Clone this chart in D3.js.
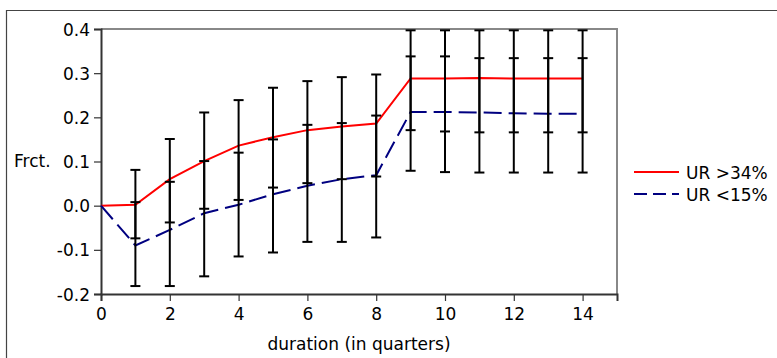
<!DOCTYPE html>
<html>
<head>
<meta charset="utf-8">
<script src="https://cdn.jsdelivr.net/npm/d3@7"></script>
<style>
  html, body { margin: 0; padding: 0; background: #fff; }
  svg { display: block; }
  svg text { font-family: "DejaVu Sans", sans-serif; font-size: 17px; fill: #000; }
</style>
</head>
<body>
<div id="chart"></div>
<script>
const quarters = [0, 1, 2, 3, 4, 5, 6, 7, 8, 9, 10, 11, 12, 13, 14];
const urHigh = [0, 0.002, 0.060, 0.101, 0.136, 0.155, 0.171, 0.179, 0.186, 0.288, 0.288, 0.289, 0.288, 0.288, 0.288];
const urLow = [0, -0.090, -0.055, -0.017, 0.002, 0.026, 0.045, 0.060, 0.069, 0.212, 0.212, 0.211, 0.209, 0.208, 0.208];

// error bars, quarters 1..14
const barQuarters = [1, 2, 3, 4, 5, 6, 7, 8, 9, 10, 11, 12, 13, 14];
const highLo = [-0.074, -0.038, -0.007, 0.013, 0.041, 0.051, 0.060, 0.066, 0.171, 0.168, 0.166, 0.166, 0.166, 0.166];
const highHi = [0.081, 0.151, 0.211, 0.239, 0.267, 0.282, 0.291, 0.297, 0.397, 0.397, 0.397, 0.397, 0.397, 0.397];
const lowLo = [-0.182, -0.182, -0.160, -0.115, -0.106, -0.082, -0.082, -0.072, 0.079, 0.076, 0.075, 0.075, 0.075, 0.075];
const lowHi = [0.008, 0.054, 0.101, 0.120, 0.150, 0.183, 0.187, 0.204, 0.338, 0.338, 0.334, 0.334, 0.334, 0.334];

const xTicks = [0, 2, 4, 6, 8, 10, 12, 14];
const yTicks = [-0.2, -0.1, 0.0, 0.1, 0.2, 0.3, 0.4];

const width = 777, height = 358;
const margin = { top: 29, right: 160, bottom: 64, left: 101 };
const innerWidth = width - margin.left - margin.right;
const innerHeight = height - margin.top - margin.bottom;

const svg = d3.select('#chart')
  .append('svg')
  .attr('width', width)
  .attr('height', height);

// outer frame
svg.append('path')
  .attr('d', `M6.5,${height} V10.5 H${width}`)
  .attr('fill', 'none')
  .attr('stroke', '#444')
  .attr('stroke-width', 1.2);

const g = svg.append('g')
  .attr('transform', `translate(${margin.left},${margin.top})`);

const x = d3.scaleLinear().domain([0, 15]).range([0, innerWidth]);
const y = d3.scaleLinear().domain([-0.2, 0.4]).range([innerHeight, 0]);

// top / right border
g.append('path')
  .attr('d', `M0,0 H${innerWidth} V${innerHeight}`)
  .attr('fill', 'none')
  .attr('stroke', '#888')
  .attr('stroke-width', 2);

const fmtY = d => d3.format('.1f')(d).replace('\u2212', '-');

// Y Axis
const yAxis = g.append('g')
  .call(d3.axisLeft(y).tickValues(yTicks).tickSize(7).tickPadding(4).tickFormat(fmtY));
yAxis.attr('font-size', null).attr('font-family', null);
yAxis.select('.domain').attr('stroke', '#333').attr('stroke-width', 2);
yAxis.selectAll('line').attr('stroke', '#333').attr('stroke-width', 1.2);
yAxis.selectAll('text').attr('fill', '#000').attr('dy', '0.36em');

// X Axis
const xAxis = g.append('g')
  .attr('transform', `translate(0,${innerHeight})`)
  .call(d3.axisBottom(x).tickValues(xTicks).tickSize(7).tickPadding(7).tickFormat(d3.format('d')));
xAxis.attr('font-size', null).attr('font-family', null);
xAxis.select('.domain').attr('stroke', '#333').attr('stroke-width', 2);
xAxis.selectAll('line').attr('stroke', '#333').attr('stroke-width', 1.2);
xAxis.selectAll('text').attr('fill', '#000');

// Axis labels
svg.append('text')
  .attr('x', 14)
  .attr('y', 167)
  .text('Frct.');

svg.append('text')
  .attr('x', margin.left + innerWidth / 2)
  .attr('y', 350)
  .attr('text-anchor', 'middle')
  .text('duration (in quarters)');

// Lines
const line = d3.line()
  .x((d, i) => x(quarters[i]))
  .y(d => y(d));

g.append('path')
  .datum(urHigh)
  .attr('fill', 'none')
  .attr('stroke', '#ff0000')
  .attr('stroke-width', 2)
  .attr('d', line);

g.append('path')
  .datum(urLow)
  .attr('fill', 'none')
  .attr('stroke', '#000080')
  .attr('stroke-width', 2)
  .attr('stroke-dasharray', '18,7')
  .attr('d', line);

// Error bars
const bars = [];
barQuarters.forEach((q, i) => {
  bars.push({ q, lo: highLo[i], hi: highHi[i] });
  bars.push({ q, lo: lowLo[i], hi: lowHi[i] });
});

const eb = g.append('g')
  .attr('stroke', '#000')
  .attr('stroke-width', 2);

eb.selectAll('.stem')
  .data(bars)
  .enter()
  .append('line')
  .attr('x1', d => x(d.q))
  .attr('x2', d => x(d.q))
  .attr('y1', d => y(d.lo))
  .attr('y2', d => y(d.hi));

const caps = bars.flatMap(d => [{ q: d.q, v: d.lo }, { q: d.q, v: d.hi }]);
eb.selectAll('.cap')
  .data(caps)
  .enter()
  .append('line')
  .attr('x1', d => x(d.q) - 5)
  .attr('x2', d => x(d.q) + 5)
  .attr('y1', d => y(d.v))
  .attr('y2', d => y(d.v));

// Legend
const legend = svg.append('g');
legend.append('line')
  .attr('x1', 634).attr('x2', 679)
  .attr('y1', 172).attr('y2', 172)
  .attr('stroke', '#ff0000')
  .attr('stroke-width', 2);
legend.append('text')
  .attr('x', 686).attr('y', 179)
  .text('UR >34%');
legend.append('line')
  .attr('x1', 634).attr('x2', 679)
  .attr('y1', 194).attr('y2', 194)
  .attr('stroke', '#000080')
  .attr('stroke-width', 2)
  .attr('stroke-dasharray', '13,6');
legend.append('text')
  .attr('x', 686).attr('y', 201)
  .text('UR <15%');
</script>
</body>
</html>
